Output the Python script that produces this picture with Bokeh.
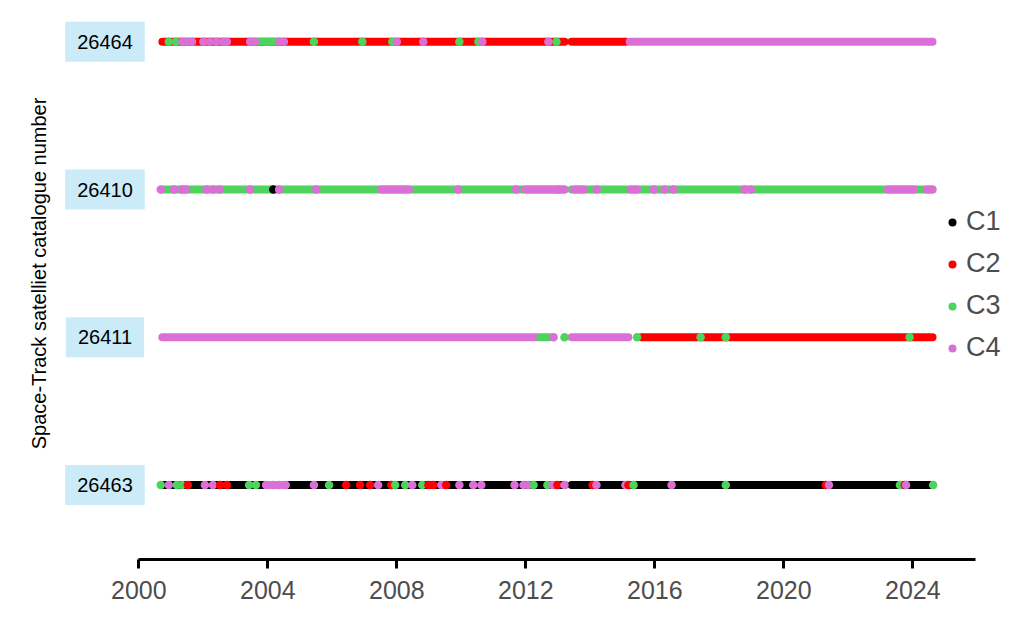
import math
from bokeh.plotting import figure
from bokeh.models import ColumnDataSource, Range1d, FixedTicker, Label, Legend, LegendItem
from bokeh.transform import factor_cmap
from bokeh.embed import file_html
from bokeh.resources import INLINE

# ---------------- data ----------------
satellites = ["26463", "26411", "26410", "26464"]          # bottom to top
classes = ["C1", "C2", "C3", "C4"]
class_colors = ["#000000", "#FF0000", "#4CD45C", "#DA70D6"]
tick_years = [2000, 2004, 2008, 2012, 2016, 2020, 2024]
y_title = "Space-Track satelliet catalogue number"

# continuous runs of observations: satellite, start year, end year, class
run_sat = ["26463", "26463", "26463",
           "26411", "26411", "26411", "26411",
           "26410", "26410", "26410", "26410", "26410", "26410", "26410", "26410",
           "26464", "26464", "26464", "26464"]
run_start = [2000.73, 2013.42, 2003.95,
             2000.73, 2012.45, 2013.42, 2015.58,
             2000.73, 2013.42, 2007.52, 2011.99, 2013.50, 2015.25, 2023.22, 2024.43,
             2000.73, 2013.42, 2015.22, 2003.76]
run_end = [2013.20, 2024.61, 2004.55,
           2012.35, 2012.75, 2015.18, 2024.61,
           2013.20, 2024.61, 2008.38, 2013.20, 2013.80, 2015.45, 2024.04, 2024.61,
           2013.20, 2015.10, 2024.61, 2004.20]
run_cls = ["C1", "C1", "C4",
           "C4", "C3", "C4", "C2",
           "C3", "C3", "C4", "C4", "C4", "C4", "C4", "C4",
           "C2", "C2", "C4", "C3"]

# individual observations standing out from the runs
sat26463_dates = [2000.68, 2000.93, 2001.18, 2001.34, 2001.52, 2002.05, 2002.30, 2002.52, 2002.73,
                  2003.42, 2003.63, 2003.95, 2004.15, 2004.35, 2004.55, 2005.43, 2005.90, 2006.43,
                  2006.86, 2007.17, 2007.42, 2007.83, 2007.95, 2008.26, 2008.48, 2008.79, 2008.98,
                  2009.13, 2009.38, 2009.53, 2009.94, 2010.37, 2010.62, 2011.65, 2011.93, 2012.08,
                  2012.24, 2012.67, 2012.83, 2012.98, 2013.20, 2014.07, 2014.19, 2015.09, 2015.18,
                  2015.34, 2016.52, 2018.20, 2021.30, 2021.40, 2023.60, 2023.75, 2023.79, 2024.63]
sat26463_cls = ["C3", "C4", "C3", "C3", "C2", "C4", "C4", "C2", "C2",
                "C3", "C3", "C4", "C4", "C4", "C4", "C4", "C3", "C2",
                "C2", "C2", "C4", "C2", "C3", "C3", "C4", "C3", "C2",
                "C2", "C4", "C2", "C4", "C4", "C4", "C4", "C4", "C4",
                "C3", "C3", "C4", "C2", "C4", "C2", "C4", "C4", "C2",
                "C3", "C4", "C3", "C2", "C4", "C3", "C2", "C4", "C3"]

sat26411_dates = [2012.86, 2013.20, 2015.45, 2017.42, 2018.20, 2023.90]
sat26411_cls = ["C4", "C3", "C3", "C3", "C3", "C3"]

sat26410_dates = [2000.68, 2001.09, 2001.34, 2001.46, 2002.10, 2002.30, 2002.50, 2003.45, 2004.17,
                  2004.35, 2005.50, 2009.90, 2011.70, 2012.98, 2014.20, 2015.97, 2016.30, 2016.58,
                  2018.78, 2018.98]
sat26410_cls = ["C4", "C4", "C4", "C4", "C4", "C4", "C4", "C4", "C1",
                "C4", "C4", "C4", "C4", "C4", "C4", "C4", "C4", "C4",
                "C4", "C4"]

sat26464_dates = [2000.93, 2001.15, 2001.35, 2001.50, 2001.65, 2002.00, 2002.20, 2002.40, 2002.60,
                  2002.73, 2003.45, 2003.60, 2004.35, 2004.50, 2005.43, 2006.93, 2007.86, 2008.00,
                  2008.82, 2009.94, 2010.53, 2010.65, 2012.70, 2012.95]
sat26464_cls = ["C3", "C3", "C4", "C4", "C4", "C4", "C4", "C4", "C4",
                "C4", "C4", "C4", "C4", "C4", "C3", "C3", "C3", "C4",
                "C4", "C3", "C3", "C4", "C4", "C3"]

# ---------------- build ----------------
sat_pos = {s: i + 1 for i, s in enumerate(satellites)}

runs = ColumnDataSource(dict(
    x0=run_start, x1=run_end,
    y=[sat_pos[s] for s in run_sat],
    cls=run_cls))

dots = []
for sat, dts, cl in [("26463", sat26463_dates, sat26463_cls),
                     ("26411", sat26411_dates, sat26411_cls),
                     ("26410", sat26410_dates, sat26410_cls),
                     ("26464", sat26464_dates, sat26464_cls)]:
    for d, c in zip(dts, cl):
        dots.append((d, sat_pos[sat], c))
dots.sort(key=lambda t: t[0])
dot_src = ColumnDataSource(dict(x=[d[0] for d in dots], y=[d[1] for d in dots],
                                cls=[d[2] for d in dots]))

cmap = factor_cmap("cls", class_colors, classes)

p = figure(width=1005, height=620, output_backend="svg", toolbar_location=None,
           x_range=Range1d(1995.711, 2026.874), y_range=Range1d(0.4957, 4.2797),
           y_axis_location=None,
           min_border_left=0, min_border_right=0, min_border_top=0, min_border_bottom=61)
p.outline_line_color = None
p.xgrid.visible = False
p.ygrid.visible = False
p.background_fill_color = "white"

p.segment(x0="x0", y0="y", x1="x1", y1="y", source=runs, line_color=cmap,
          line_width=8, line_cap="round")
dot_r = p.scatter(x="x", y="y", source=dot_src, size=8.5, fill_color=cmap, line_color=None)

# x axis
ax = p.xaxis[0]
ax.ticker = FixedTicker(ticks=tick_years)
ax.bounds = (2000, 2025.94)
ax.axis_line_width = 3
ax.axis_line_color = "black"
ax.major_tick_line_width = 3
ax.major_tick_line_color = "black"
ax.major_tick_out = 9
ax.major_tick_in = 0
ax.minor_tick_line_color = None
ax.major_label_text_font = "Liberation Sans"
ax.major_label_text_font_size = "25px"
ax.major_label_text_color = "#4D4D4D"
ax.major_label_standoff = 12

# y labels in light-blue boxes
for s in satellites:
    p.add_layout(Label(x=1998.95, y=sat_pos[s], text=s, text_align="center",
                       text_baseline="middle", text_font="Liberation Sans",
                       text_font_size="20px", text_color="black",
                       background_fill_color="#CBEBF9", border_line_color=None,
                       padding=(12, 13)))

p.add_layout(Label(x=1996.89, y=2.432, text=y_title, angle=math.pi / 2,
                   text_align="center", text_baseline="middle",
                   text_font="Liberation Sans", text_font_size="20px", text_color="black"))

# legend, drawn from the observation renderer itself
dot_cls = dot_src.data["cls"]
items = [LegendItem(label=c, renderers=[dot_r], index=dot_cls.index(c)) for c in classes]
legend = Legend(items=items, location=(942, 196), orientation="vertical",
                glyph_width=20, glyph_height=20, label_standoff=4, spacing=11,
                padding=0, margin=0, border_line_color=None, background_fill_alpha=0,
                label_text_font="Liberation Sans", label_text_font_size="27px",
                label_text_color="#4D4D4D")
p.add_layout(legend)

open("out.html", "w").write(file_html(p, INLINE))
